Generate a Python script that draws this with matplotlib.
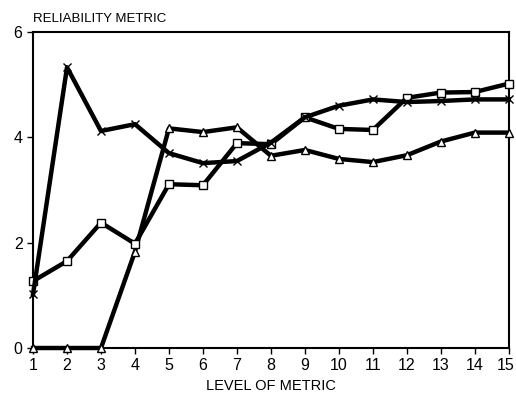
import matplotlib
matplotlib.use("Agg")
import matplotlib.pyplot as plt
from matplotlib.transforms import ScaledTranslation

levels = list(range(1, 16))
cross_vals = [1.02, 5.33, 4.12, 4.25, 3.7, 3.51, 3.55, 3.9, 4.38, 4.6, 4.72, 4.67, 4.69, 4.72, 4.72]
square_vals = [1.27, 1.65, 2.38, 1.98, 3.11, 3.09, 3.89, 3.87, 4.38, 4.16, 4.14, 4.75, 4.85, 4.86, 5.02]
triangle_vals = [0.0, 0.0, 0.0, 1.83, 4.17, 4.1, 4.19, 3.65, 3.76, 3.59, 3.53, 3.66, 3.92, 4.09, 4.09]
y_ticks = [0, 2, 4, 6]
title_text = "RELIABILITY METRIC"
xlabel_text = "LEVEL OF METRIC"

plt.rcParams['font.family'] = ['Liberation Sans', 'DejaVu Sans']
fig = plt.figure(figsize=(5.16, 3.98), dpi=100)
ax = fig.add_axes([0.064, 0.1256, 0.922, 0.794])

for vals, m in [(triangle_vals, '^'), (square_vals, 's'), (cross_vals, 'x')]:
    ax.plot(levels, vals, color='black', lw=3.2, marker=m, ms=6,
            mfc='white' if m != 'x' else 'black', mec='black', mew=1.0, clip_on=False, zorder=3)

ax.set_xlim(1, 15)
ax.set_ylim(0, 6)
ax.set_xticks(levels)
ax.set_yticks(y_ticks)
ax.tick_params(direction='out', length=4, width=1, labelsize=11.5, colors='black')
for s in ax.spines.values():
    s.set_linewidth(1.5)
ax.set_xlabel(xlabel_text, fontsize=10.5, labelpad=4)
fig.text(33 / 516, 1 - 19 / 398, title_text, fontsize=9.5, ha='left', va='center')

fig.canvas.draw()
last = ax.get_xticklabels()[-1]
last.set_transform(last.get_transform() + ScaledTranslation(-3 / 100, 0, fig.dpi_scale_trans))
fig.savefig("out.png", dpi=100)
